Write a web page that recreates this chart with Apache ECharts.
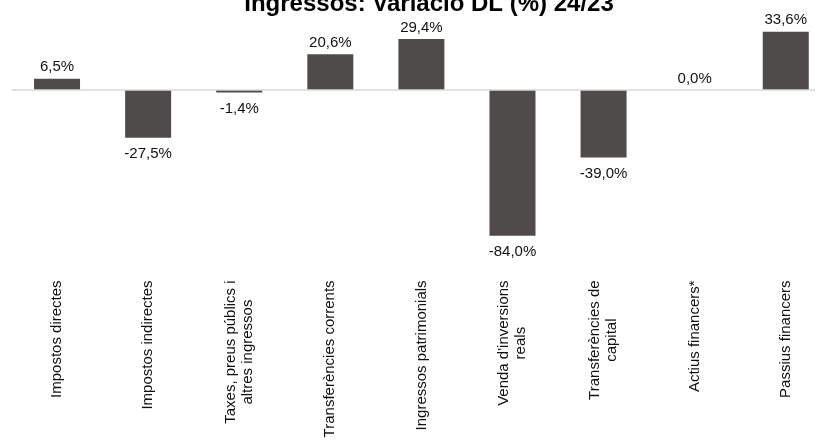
<!DOCTYPE html>
<html>
<head>
<meta charset="utf-8">
<script src="https://cdn.jsdelivr.net/npm/echarts@6/dist/echarts.min.js"></script>
<style>
html,body{margin:0;padding:0;background:#fff;}
#c{width:815px;height:441px;}
</style>
</head>
<body>
<div id="c"></div>
<script>
var titleText = "Ingressos: Variació DL (%) 24/23";
var categories = [
  "Impostos directes",
  "Impostos indirectes",
  "Taxes, preus públics i\naltres ingressos",
  "Transferències corrents",
  "Ingressos patrimonials",
  "Venda d'inversions\nreals",
  "Transferències de\ncapital",
  "Actius financers*",
  "Passius financers"
];
var values = [6.5, -27.5, -1.4, 20.6, 29.4, -84.0, -39.0, 0.0, 33.6];

var barColor = '#4f4b4a';
var fmt = function (v) { return v.toFixed(1).replace('.', ',') + '%'; };

var data = values.map(function (v) {
  return {
    value: v,
    label: {
      position: v < 0 ? 'bottom' : 'top',
      distance: v < 0 ? 9 : 4
    }
  };
});

var chart = echarts.init(document.getElementById('c'), null, {renderer: 'canvas'});
chart.setOption({
  animation: false,
  backgroundColor: '#ffffff',
  title: {
    text: titleText,
    left: 424,
    textAlign: 'center',
    top: -13,
    textStyle: {
      fontFamily: 'Liberation Sans, Arial, sans-serif',
      fontSize: 24,
      fontWeight: 'bold',
      color: '#000'
    }
  },
  grid: {
    left: 11.5,
    width: 819.8,
    top: 20.6,
    height: 242.8,
    containLabel: false,
    outerBoundsMode: 'none'
  },
  xAxis: {
    type: 'category',
    data: categories,
    axisLine: {show: false},
    axisTick: {show: false},
    splitLine: {show: false},
    axisLabel: {
      interval: 0,
      rotate: 90,
      margin: 17,
      formatter: function (s) {
        return s.split('\n').map(function (l) { return '{a|' + l + '}'; }).join('\n');
      },
      rich: {
        a: {
          align: 'center',
          fontFamily: 'Liberation Sans, Arial, sans-serif',
          fontSize: 15,
          color: '#111',
          lineHeight: 17
        }
      }
    }
  },
  yAxis: {
    type: 'value',
    min: -100,
    max: 40,
    show: false,
    splitLine: {show: false}
  },
  series: [{
    type: 'bar',
    data: data,
    barWidth: 46,
    itemStyle: {color: barColor},
    label: {
      show: true,
      formatter: function (p) { return fmt(p.value); },
      fontFamily: 'Liberation Sans, Arial, sans-serif',
      fontSize: 15,
      color: '#111'
    },
    markLine: {
      silent: true,
      symbol: 'none',
      label: {show: false},
      lineStyle: {color: '#d9d9d9', width: 1.5, type: 'solid'},
      data: [{yAxis: 0}]
    }
  }]
});
</script>
</body>
</html>
